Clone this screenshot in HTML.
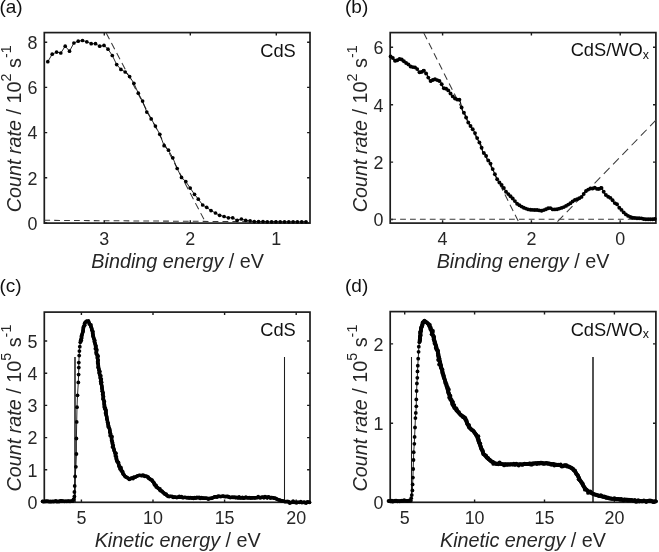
<!DOCTYPE html>
<html><head><meta charset="utf-8"><style>
html,body{margin:0;padding:0;background:#fff;}
body{width:659px;height:552px;overflow:hidden;}
svg{display:block;will-change:transform;}
</style></head><body>
<svg width="659" height="552" viewBox="0 0 659 552" font-family='"Liberation Sans", sans-serif' font-size="17.9" fill="#111"><rect width="659" height="552" fill="#fff"/><g font-size="19"><text x="-0.6" y="13">(a)</text><text x="345" y="13">(b)</text><text x="-0.6" y="292">(c)</text><text x="345" y="292">(d)</text></g><rect x="44.3" y="32.6" width="265.7" height="190.5" fill="none" stroke="#1c1c1c" stroke-width="1.7"/><path d="M104.3,223.1v-2.9M104.3,32.6v2.9M190.3,223.1v-2.9M190.3,32.6v2.9M276.3,223.1v-2.9M276.3,32.6v2.9M44.3,223h2.9M310,223h-2.9M44.3,177.8h2.9M310,177.8h-2.9M44.3,132.6h2.9M310,132.6h-2.9M44.3,87.4h2.9M310,87.4h-2.9M44.3,42.2h2.9M310,42.2h-2.9" stroke="#1c1c1c" stroke-width="1.4" fill="none"/><text x="104.3" y="245.3" fill="#262626" text-anchor="middle">3</text><text x="190.3" y="245.3" fill="#262626" text-anchor="middle">2</text><text x="276.3" y="245.3" fill="#262626" text-anchor="middle">1</text><text x="37.5" y="229.8" fill="#262626" text-anchor="end">0</text><text x="37.5" y="184.6" fill="#262626" text-anchor="end">2</text><text x="37.5" y="139.4" fill="#262626" text-anchor="end">4</text><text x="37.5" y="94.2" fill="#262626" text-anchor="end">6</text><text x="37.5" y="49.0" fill="#262626" text-anchor="end">8</text><rect x="390.2" y="32.6" width="265.7" height="190.5" fill="none" stroke="#1c1c1c" stroke-width="1.7"/><path d="M442.6,223.1v-2.9M442.6,32.6v2.9M531.4,223.1v-2.9M531.4,32.6v2.9M620.2,223.1v-2.9M620.2,32.6v2.9M390.2,219.5h2.9M655.9,219.5h-2.9M390.2,162.1h2.9M655.9,162.1h-2.9M390.2,104.7h2.9M655.9,104.7h-2.9M390.2,47.3h2.9M655.9,47.3h-2.9" stroke="#1c1c1c" stroke-width="1.4" fill="none"/><text x="442.6" y="245.3" fill="#262626" text-anchor="middle">4</text><text x="531.4" y="245.3" fill="#262626" text-anchor="middle">2</text><text x="620.2" y="245.3" fill="#262626" text-anchor="middle">0</text><text x="383.4" y="226.3" fill="#262626" text-anchor="end">0</text><text x="383.4" y="168.9" fill="#262626" text-anchor="end">2</text><text x="383.4" y="111.5" fill="#262626" text-anchor="end">4</text><text x="383.4" y="54.1" fill="#262626" text-anchor="end">6</text><rect x="44.3" y="312.1" width="265.7" height="190.2" fill="none" stroke="#1c1c1c" stroke-width="1.7"/><path d="M81.4,502.3v-2.9M81.4,312.1v2.9M153,502.3v-2.9M153,312.1v2.9M224.6,502.3v-2.9M224.6,312.1v2.9M296.2,502.3v-2.9M296.2,312.1v2.9M44.3,502h2.9M310,502h-2.9M44.3,469.8h2.9M310,469.8h-2.9M44.3,437.6h2.9M310,437.6h-2.9M44.3,405.4h2.9M310,405.4h-2.9M44.3,373.2h2.9M310,373.2h-2.9M44.3,341h2.9M310,341h-2.9" stroke="#1c1c1c" stroke-width="1.4" fill="none"/><text x="81.4" y="524.4" fill="#262626" text-anchor="middle">5</text><text x="153" y="524.4" fill="#262626" text-anchor="middle">10</text><text x="224.6" y="524.4" fill="#262626" text-anchor="middle">15</text><text x="296.2" y="524.4" fill="#262626" text-anchor="middle">20</text><text x="37.5" y="508.8" fill="#262626" text-anchor="end">0</text><text x="37.5" y="476.6" fill="#262626" text-anchor="end">1</text><text x="37.5" y="444.4" fill="#262626" text-anchor="end">2</text><text x="37.5" y="412.2" fill="#262626" text-anchor="end">3</text><text x="37.5" y="380.0" fill="#262626" text-anchor="end">4</text><text x="37.5" y="347.8" fill="#262626" text-anchor="end">5</text><rect x="390.2" y="311.6" width="265.7" height="190.7" fill="none" stroke="#1c1c1c" stroke-width="1.7"/><path d="M404.7,502.3v-2.9M404.7,311.6v2.9M474.6,502.3v-2.9M474.6,311.6v2.9M544.5,502.3v-2.9M544.5,311.6v2.9M614.4,502.3v-2.9M614.4,311.6v2.9M390.2,502.5h2.9M655.9,502.5h-2.9M390.2,423.2h2.9M655.9,423.2h-2.9M390.2,343.9h2.9M655.9,343.9h-2.9" stroke="#1c1c1c" stroke-width="1.4" fill="none"/><text x="404.7" y="524.4" fill="#262626" text-anchor="middle">5</text><text x="474.6" y="524.4" fill="#262626" text-anchor="middle">10</text><text x="544.5" y="524.4" fill="#262626" text-anchor="middle">15</text><text x="614.4" y="524.4" fill="#262626" text-anchor="middle">20</text><text x="383.4" y="509.3" fill="#262626" text-anchor="end">0</text><text x="383.4" y="430.0" fill="#262626" text-anchor="end">1</text><text x="383.4" y="350.7" fill="#262626" text-anchor="end">2</text><path d="M44.3,220.3L310,222.1M390.2,219.3H655.9" stroke="#3a3a3a" stroke-width="1.05" fill="none" stroke-dasharray="5.8 4.1"/><path d="M106.2,33L204.8,221M423.8,33L519.2,223" stroke="#3a3a3a" stroke-width="1.05" fill="none" stroke-dasharray="7 4.3"/><path d="M655.9,120.2L556.1,223" stroke="#3a3a3a" stroke-width="1.05" fill="none" stroke-dasharray="8.3 5"/><path d="M75,357V502M593,357V502" stroke="#000" stroke-width="1.35" fill="none"/><path d="M284.5,357V502M411.5,357V502" stroke="#1e1e1e" stroke-width="1.05" fill="none"/><polyline points="47.8,61.7 52.2,54.2 56.6,52.1 60.8,53.0 65.2,46.2 69.5,51.2 73.9,43.0 78.2,41.2 82.5,40.5 86.8,41.8 91.2,43.7 95.5,43.7 99.7,46.2 104.0,45.4 108.0,49.2 112.3,55.5 116.7,64.6 120.9,69.4 125.2,72.0 129.6,76.5 133.9,83.3 138.3,93.2 142.6,101.1 146.8,112.1 151.2,118.9 155.4,126.1 159.8,134.3 164.1,145.7 168.5,150.2 172.8,157.8 177.2,168.5 181.5,177.4 185.8,181.6 190.2,188.1 194.5,194.3 198.3,199.2 202.7,205.0 206.7,207.3 211.0,210.6 215.5,213.0 219.6,215.3 224.1,216.5 228.4,217.8 232.7,217.8 237.2,220.3 241.4,219.0 245.7,220.3 250.1,220.9 254.3,221.6 258.6,221.6 263.0,221.6 267.3,221.8 271.6,221.8 275.9,221.8 280.2,221.8 284.5,221.8 288.8,221.8 293.1,221.8 297.4,221.8 301.7,221.8 306.0,221.8" fill="none" stroke="#111" stroke-width="0.9"/><g fill="#000"><circle cx="47.8" cy="61.7" r="1.85"/><circle cx="52.2" cy="54.2" r="1.85"/><circle cx="56.6" cy="52.1" r="1.85"/><circle cx="60.8" cy="53.0" r="1.85"/><circle cx="65.2" cy="46.2" r="1.85"/><circle cx="69.5" cy="51.2" r="1.85"/><circle cx="73.9" cy="43.0" r="1.85"/><circle cx="78.2" cy="41.2" r="1.85"/><circle cx="82.5" cy="40.5" r="1.85"/><circle cx="86.8" cy="41.8" r="1.85"/><circle cx="91.2" cy="43.7" r="1.85"/><circle cx="95.5" cy="43.7" r="1.85"/><circle cx="99.7" cy="46.2" r="1.85"/><circle cx="104.0" cy="45.4" r="1.85"/><circle cx="108.0" cy="49.2" r="1.85"/><circle cx="112.3" cy="55.5" r="1.85"/><circle cx="116.7" cy="64.6" r="1.85"/><circle cx="120.9" cy="69.4" r="1.85"/><circle cx="125.2" cy="72.0" r="1.85"/><circle cx="129.6" cy="76.5" r="1.85"/><circle cx="133.9" cy="83.3" r="1.85"/><circle cx="138.3" cy="93.2" r="1.85"/><circle cx="142.6" cy="101.1" r="1.85"/><circle cx="146.8" cy="112.1" r="1.85"/><circle cx="151.2" cy="118.9" r="1.85"/><circle cx="155.4" cy="126.1" r="1.85"/><circle cx="159.8" cy="134.3" r="1.85"/><circle cx="164.1" cy="145.7" r="1.85"/><circle cx="168.5" cy="150.2" r="1.85"/><circle cx="172.8" cy="157.8" r="1.85"/><circle cx="177.2" cy="168.5" r="1.85"/><circle cx="181.5" cy="177.4" r="1.85"/><circle cx="185.8" cy="181.6" r="1.85"/><circle cx="190.2" cy="188.1" r="1.85"/><circle cx="194.5" cy="194.3" r="1.85"/><circle cx="198.3" cy="199.2" r="1.85"/><circle cx="202.7" cy="205.0" r="1.85"/><circle cx="206.7" cy="207.3" r="1.85"/><circle cx="211.0" cy="210.6" r="1.85"/><circle cx="215.5" cy="213.0" r="1.85"/><circle cx="219.6" cy="215.3" r="1.85"/><circle cx="224.1" cy="216.5" r="1.85"/><circle cx="228.4" cy="217.8" r="1.85"/><circle cx="232.7" cy="217.8" r="1.85"/><circle cx="237.2" cy="220.3" r="1.85"/><circle cx="241.4" cy="219.0" r="1.85"/><circle cx="245.7" cy="220.3" r="1.85"/><circle cx="250.1" cy="220.9" r="1.85"/><circle cx="254.3" cy="221.6" r="1.85"/><circle cx="258.6" cy="221.6" r="1.85"/><circle cx="263.0" cy="221.6" r="1.85"/><circle cx="267.3" cy="221.8" r="1.85"/><circle cx="271.6" cy="221.8" r="1.85"/><circle cx="275.9" cy="221.8" r="1.85"/><circle cx="280.2" cy="221.8" r="1.85"/><circle cx="284.5" cy="221.8" r="1.85"/><circle cx="288.8" cy="221.8" r="1.85"/><circle cx="293.1" cy="221.8" r="1.85"/><circle cx="297.4" cy="221.8" r="1.85"/><circle cx="301.7" cy="221.8" r="1.85"/><circle cx="306.0" cy="221.8" r="1.85"/></g><polyline points="390.6,56.4 392.3,57.3 394.2,59.9 396.0,61.8 398.1,59.1 400.7,58.9 402.9,60.2 405.4,62.8 407.6,63.5 409.7,66.0 411.6,67.1 414.1,67.1 416.6,67.8 418.4,71.4 421.0,73.3 422.8,69.5 425.3,72.5 427.1,74.7 429.3,79.9 431.5,81.9 433.7,78.7 437.3,80.1 440.7,81.6 443.1,88.1 446.7,88.8 448.9,91.0 451.8,95.4 454.7,98.3 456.9,99.7 459.1,99.0 460.5,102.6 462.4,110.6 464.9,114.2 467.0,120.0 469.2,124.3 471.4,127.2 474.3,131.6 475.4,134.1 478.2,140.4 480.9,144.9 482.7,152.2 485.4,154.0 487.2,159.4 489.9,162.1 491.7,166.7 493.6,171.2 496.3,177.5 498.1,181.2 500.8,183.9 503.5,187.5 506.2,192.0 509.9,195.7 513.5,199.3 517.1,203.8 521.1,206.4 524.7,208.2 528.3,209.4 533.2,210.0 538.1,210.0 541.1,211.0 544.7,209.8 549.6,207.6 552.6,209.4 556.9,209.4 560.5,208.2 564.2,207.0 567.2,205.2 570.2,203.4 573.9,200.3 577.5,199.1 581.1,197.3 583.0,195.5 584.8,191.8 587.2,190.2 590.1,188.5 592.9,188.5 595.7,187.4 598.3,190.2 600.7,186.6 602.7,190.0 605.0,194.1 607.5,196.4 609.7,197.5 612.0,199.0 614.0,203.1 616.4,203.1 618.7,207.1 620.9,209.3 623.7,212.4 626.5,214.9 629.4,216.6 632.2,217.7 636.7,218.3 641.1,218.3 644.5,219.2 649.0,219.2 653.5,219.2 655.7,218.8" fill="none" stroke="#000" stroke-width="1.1" stroke-linejoin="round" stroke-linecap="round"/><g fill="#000"><circle cx="390.6" cy="56.4" r="1.95"/><circle cx="392.8" cy="58.0" r="1.95"/><circle cx="395.0" cy="60.8" r="1.95"/><circle cx="397.3" cy="60.2" r="1.95"/><circle cx="399.5" cy="59.0" r="1.95"/><circle cx="401.7" cy="59.5" r="1.95"/><circle cx="403.9" cy="61.3" r="1.95"/><circle cx="406.1" cy="63.0" r="1.95"/><circle cx="408.4" cy="64.4" r="1.95"/><circle cx="410.6" cy="66.5" r="1.95"/><circle cx="412.8" cy="67.1" r="1.95"/><circle cx="415.0" cy="67.4" r="1.95"/><circle cx="417.2" cy="69.1" r="1.95"/><circle cx="419.5" cy="72.2" r="1.95"/><circle cx="421.7" cy="71.9" r="1.95"/><circle cx="423.9" cy="70.8" r="1.95"/><circle cx="426.1" cy="73.5" r="1.95"/><circle cx="428.3" cy="77.6" r="1.95"/><circle cx="430.6" cy="81.0" r="1.95"/><circle cx="432.8" cy="80.0" r="1.95"/><circle cx="435.0" cy="79.2" r="1.95"/><circle cx="437.2" cy="80.1" r="1.95"/><circle cx="439.4" cy="81.0" r="1.95"/><circle cx="441.7" cy="84.2" r="1.95"/><circle cx="443.9" cy="88.3" r="1.95"/><circle cx="446.1" cy="88.7" r="1.95"/><circle cx="448.3" cy="90.4" r="1.95"/><circle cx="450.5" cy="93.5" r="1.95"/><circle cx="452.8" cy="96.4" r="1.95"/><circle cx="455.0" cy="98.5" r="1.95"/><circle cx="457.2" cy="99.6" r="1.95"/><circle cx="459.4" cy="99.8" r="1.95"/><circle cx="461.6" cy="107.4" r="1.95"/><circle cx="463.9" cy="112.7" r="1.95"/><circle cx="466.1" cy="117.5" r="1.95"/><circle cx="468.3" cy="122.5" r="1.95"/><circle cx="470.5" cy="126.0" r="1.95"/><circle cx="472.7" cy="129.2" r="1.95"/><circle cx="475.0" cy="133.1" r="1.95"/><circle cx="477.2" cy="138.1" r="1.95"/><circle cx="479.4" cy="142.4" r="1.95"/><circle cx="481.6" cy="147.8" r="1.95"/><circle cx="483.8" cy="153.0" r="1.95"/><circle cx="486.1" cy="156.0" r="1.95"/><circle cx="488.3" cy="160.5" r="1.95"/><circle cx="490.5" cy="163.6" r="1.95"/><circle cx="492.7" cy="169.1" r="1.95"/><circle cx="494.9" cy="174.3" r="1.95"/><circle cx="497.2" cy="179.3" r="1.95"/><circle cx="499.4" cy="182.5" r="1.95"/><circle cx="501.6" cy="185.0" r="1.95"/><circle cx="503.8" cy="188.0" r="1.95"/><circle cx="506.0" cy="191.7" r="1.95"/><circle cx="508.3" cy="194.1" r="1.95"/><circle cx="510.5" cy="196.3" r="1.95"/><circle cx="512.7" cy="198.5" r="1.95"/><circle cx="514.9" cy="201.1" r="1.95"/><circle cx="517.1" cy="203.8" r="1.95"/><circle cx="519.4" cy="205.3" r="1.95"/><circle cx="521.6" cy="206.6" r="1.95"/><circle cx="523.8" cy="207.8" r="1.95"/><circle cx="526.0" cy="208.6" r="1.95"/><circle cx="528.2" cy="209.4" r="1.95"/><circle cx="530.5" cy="209.7" r="1.95"/><circle cx="532.7" cy="209.9" r="1.95"/><circle cx="534.9" cy="210.0" r="1.95"/><circle cx="537.1" cy="210.0" r="1.95"/><circle cx="539.3" cy="210.4" r="1.95"/><circle cx="541.6" cy="210.8" r="1.95"/><circle cx="543.8" cy="210.1" r="1.95"/><circle cx="546.0" cy="209.2" r="1.95"/><circle cx="548.2" cy="208.2" r="1.95"/><circle cx="550.4" cy="208.1" r="1.95"/><circle cx="552.7" cy="209.4" r="1.95"/><circle cx="554.9" cy="209.4" r="1.95"/><circle cx="557.1" cy="209.3" r="1.95"/><circle cx="559.3" cy="208.6" r="1.95"/><circle cx="561.5" cy="207.9" r="1.95"/><circle cx="563.8" cy="207.1" r="1.95"/><circle cx="566.0" cy="205.9" r="1.95"/><circle cx="568.2" cy="204.6" r="1.95"/><circle cx="570.4" cy="203.2" r="1.95"/><circle cx="572.6" cy="201.4" r="1.95"/><circle cx="574.9" cy="200.0" r="1.95"/><circle cx="577.1" cy="199.2" r="1.95"/><circle cx="579.3" cy="198.2" r="1.95"/><circle cx="581.5" cy="196.9" r="1.95"/><circle cx="583.7" cy="194.0" r="1.95"/><circle cx="586.0" cy="191.0" r="1.95"/><circle cx="588.2" cy="189.6" r="1.95"/><circle cx="590.4" cy="188.5" r="1.95"/><circle cx="592.6" cy="188.5" r="1.95"/><circle cx="594.8" cy="187.7" r="1.95"/><circle cx="597.1" cy="188.9" r="1.95"/><circle cx="599.3" cy="188.7" r="1.95"/><circle cx="601.5" cy="188.0" r="1.95"/><circle cx="603.7" cy="191.8" r="1.95"/><circle cx="605.9" cy="195.0" r="1.95"/><circle cx="608.2" cy="196.7" r="1.95"/><circle cx="610.4" cy="197.9" r="1.95"/><circle cx="612.6" cy="200.2" r="1.95"/><circle cx="614.8" cy="203.1" r="1.95"/><circle cx="617.0" cy="204.2" r="1.95"/><circle cx="619.3" cy="207.7" r="1.95"/><circle cx="621.5" cy="209.9" r="1.95"/><circle cx="623.7" cy="212.4" r="1.95"/><circle cx="625.9" cy="214.4" r="1.95"/><circle cx="628.1" cy="215.9" r="1.95"/><circle cx="630.4" cy="217.0" r="1.95"/><circle cx="632.6" cy="217.8" r="1.95"/><circle cx="634.8" cy="218.0" r="1.95"/><circle cx="637.0" cy="218.3" r="1.95"/><circle cx="639.2" cy="218.3" r="1.95"/><circle cx="641.5" cy="218.4" r="1.95"/><circle cx="643.7" cy="219.0" r="1.95"/><circle cx="645.9" cy="219.2" r="1.95"/><circle cx="648.1" cy="219.2" r="1.95"/><circle cx="650.3" cy="219.2" r="1.95"/><circle cx="652.6" cy="219.2" r="1.95"/><circle cx="654.8" cy="219.0" r="1.95"/></g><polyline points="42.5,501.5 72.5,501.3" fill="none" stroke="#000" stroke-width="3.4" stroke-linecap="round"/><g fill="#000"><circle cx="42.5" cy="501.4" r="1.8"/><circle cx="43.6" cy="501.7" r="1.8"/><circle cx="44.7" cy="501.4" r="1.8"/><circle cx="45.8" cy="501.4" r="1.8"/><circle cx="46.9" cy="501.1" r="1.8"/><circle cx="48.1" cy="501.4" r="1.8"/><circle cx="49.2" cy="501.8" r="1.8"/><circle cx="50.3" cy="501.6" r="1.8"/><circle cx="51.4" cy="501.8" r="1.8"/><circle cx="52.5" cy="501.5" r="1.8"/><circle cx="53.6" cy="501.6" r="1.8"/><circle cx="54.7" cy="501.5" r="1.8"/><circle cx="55.8" cy="500.8" r="1.8"/><circle cx="56.9" cy="501.7" r="1.8"/><circle cx="58.1" cy="501.6" r="1.8"/><circle cx="59.2" cy="501.6" r="1.8"/><circle cx="60.3" cy="500.8" r="1.8"/><circle cx="61.4" cy="500.8" r="1.8"/><circle cx="62.5" cy="501.1" r="1.8"/><circle cx="63.6" cy="501.2" r="1.8"/><circle cx="64.7" cy="501.5" r="1.8"/><circle cx="65.8" cy="501.3" r="1.8"/><circle cx="66.9" cy="501.5" r="1.8"/><circle cx="68.1" cy="501.1" r="1.8"/><circle cx="69.2" cy="501.4" r="1.8"/><circle cx="70.3" cy="501.5" r="1.8"/><circle cx="71.4" cy="501.1" r="1.8"/><circle cx="72.5" cy="501.3" r="1.8"/></g><polyline points="72.5,501.3 73.5,499.4 74.4,496.5 74.4,492.0 74.7,485.9 75.1,476.5 75.9,466.8 76.4,454.0 76.4,438.5 76.7,421.9 77.0,407.2 77.5,395.3 78.3,382.4 78.6,374.6 78.8,367.6 78.8,362.6 79.2,355.6 79.4,351.1 79.8,346.7 80.3,342.3 80.7,340.4" fill="none" stroke="#111" stroke-width="0.9"/><g fill="#000"><circle cx="73.5" cy="499.4" r="1.9"/><circle cx="74.4" cy="496.5" r="1.9"/><circle cx="74.4" cy="492.0" r="1.9"/><circle cx="74.7" cy="485.9" r="1.9"/><circle cx="75.1" cy="476.5" r="1.9"/><circle cx="75.9" cy="466.8" r="1.9"/><circle cx="76.4" cy="454.0" r="1.9"/><circle cx="76.4" cy="438.5" r="1.9"/><circle cx="76.7" cy="421.9" r="1.9"/><circle cx="77.0" cy="407.2" r="1.9"/><circle cx="77.5" cy="395.3" r="1.9"/><circle cx="78.3" cy="382.4" r="1.9"/><circle cx="78.6" cy="374.6" r="1.9"/><circle cx="78.8" cy="367.6" r="1.9"/><circle cx="78.8" cy="362.6" r="1.9"/><circle cx="79.2" cy="355.6" r="1.9"/><circle cx="79.4" cy="351.1" r="1.9"/><circle cx="79.8" cy="346.7" r="1.9"/><circle cx="80.3" cy="342.3" r="1.9"/><circle cx="80.7" cy="340.4" r="1.9"/></g><polyline points="80.7,340.4 81.3,337.8 82.6,332.8 83.9,326.4 85.2,322.3 86.6,321.0 88.0,321.3 89.0,322.6 90.9,326.4 92.8,332.8 94.0,339.1 95.3,345.4 96.6,353.0 97.8,360.6 98.8,368.3 100.1,375.9 101.4,383.5 102.4,390.0 103.4,398.0 104.6,406.7 105.8,411.0 107.0,418.8 109.4,428.8 111.6,439.0 113.8,449.1 116.7,459.3 120.3,468.7 124.6,475.9 129.0,478.8 134.1,477.4 139.1,475.2 146.0,476.3 151.0,479.3 154.3,483.5 156.5,486.5 159.5,489.5 163.0,492.3 168.0,495.8 173.2,497.0 179.3,497.3 191.4,497.7 203.5,498.2 209.6,498.5 215.7,496.9 223.0,496.1 230.2,497.4 242.4,498.0 254.9,497.6 267.3,497.1 272.9,497.6 277.3,499.2 282.2,501.1 289.7,502.1 299.7,502.3 309.6,502.4" fill="none" stroke="#000" stroke-width="3.3" stroke-linejoin="round" stroke-linecap="round"/><g fill="#000"><circle cx="81.4" cy="340.6" r="1.8"/><circle cx="81.2" cy="339.2" r="1.8"/><circle cx="81.8" cy="337.9" r="1.8"/><circle cx="81.4" cy="336.5" r="1.8"/><circle cx="81.7" cy="335.2" r="1.8"/><circle cx="82.1" cy="334.0" r="1.8"/><circle cx="82.6" cy="332.8" r="1.8"/><circle cx="83.1" cy="331.6" r="1.8"/><circle cx="83.2" cy="330.3" r="1.8"/><circle cx="83.2" cy="328.9" r="1.8"/><circle cx="83.3" cy="327.6" r="1.8"/><circle cx="83.7" cy="326.3" r="1.8"/><circle cx="84.8" cy="325.2" r="1.8"/><circle cx="84.5" cy="323.6" r="1.8"/><circle cx="85.3" cy="322.4" r="1.8"/><circle cx="86.6" cy="321.2" r="1.8"/><circle cx="88.5" cy="320.9" r="1.8"/><circle cx="89.0" cy="322.6" r="1.8"/><circle cx="89.2" cy="324.1" r="1.8"/><circle cx="91.0" cy="324.8" r="1.8"/><circle cx="91.0" cy="326.4" r="1.8"/><circle cx="91.3" cy="327.5" r="1.8"/><circle cx="91.8" cy="328.4" r="1.8"/><circle cx="91.7" cy="329.7" r="1.8"/><circle cx="92.2" cy="330.7" r="1.8"/><circle cx="93.0" cy="331.6" r="1.8"/><circle cx="92.5" cy="332.9" r="1.8"/><circle cx="92.8" cy="334.1" r="1.8"/><circle cx="92.9" cy="335.4" r="1.8"/><circle cx="93.0" cy="336.7" r="1.8"/><circle cx="93.6" cy="337.9" r="1.8"/><circle cx="94.0" cy="339.1" r="1.8"/><circle cx="94.8" cy="340.3" r="1.8"/><circle cx="94.3" cy="341.7" r="1.8"/><circle cx="95.0" cy="342.8" r="1.8"/><circle cx="95.2" cy="344.1" r="1.8"/><circle cx="95.8" cy="345.3" r="1.8"/><circle cx="95.9" cy="346.4" r="1.8"/><circle cx="95.9" cy="347.5" r="1.8"/><circle cx="95.3" cy="348.7" r="1.8"/><circle cx="96.8" cy="349.6" r="1.8"/><circle cx="96.8" cy="350.7" r="1.8"/><circle cx="96.3" cy="351.9" r="1.8"/><circle cx="96.0" cy="353.1" r="1.8"/><circle cx="96.6" cy="354.3" r="1.8"/><circle cx="97.8" cy="355.4" r="1.8"/><circle cx="98.2" cy="356.6" r="1.8"/><circle cx="97.3" cy="358.1" r="1.8"/><circle cx="97.9" cy="359.3" r="1.8"/><circle cx="98.2" cy="360.5" r="1.8"/><circle cx="97.6" cy="361.8" r="1.8"/><circle cx="97.6" cy="362.9" r="1.8"/><circle cx="98.2" cy="363.9" r="1.8"/><circle cx="98.3" cy="365.0" r="1.8"/><circle cx="98.3" cy="366.1" r="1.8"/><circle cx="98.0" cy="367.3" r="1.8"/><circle cx="98.6" cy="368.3" r="1.8"/><circle cx="98.8" cy="369.4" r="1.8"/><circle cx="99.0" cy="370.5" r="1.8"/><circle cx="100.0" cy="371.5" r="1.8"/><circle cx="99.0" cy="372.7" r="1.8"/><circle cx="99.4" cy="373.8" r="1.8"/><circle cx="99.7" cy="374.9" r="1.8"/><circle cx="100.9" cy="375.8" r="1.8"/><circle cx="100.5" cy="376.9" r="1.8"/><circle cx="100.1" cy="378.1" r="1.8"/><circle cx="101.4" cy="379.0" r="1.8"/><circle cx="100.9" cy="380.2" r="1.8"/><circle cx="100.6" cy="381.4" r="1.8"/><circle cx="101.7" cy="382.3" r="1.8"/><circle cx="100.8" cy="383.6" r="1.8"/><circle cx="101.4" cy="384.8" r="1.8"/><circle cx="101.9" cy="386.1" r="1.8"/><circle cx="101.9" cy="387.4" r="1.8"/><circle cx="101.9" cy="388.7" r="1.8"/><circle cx="102.4" cy="390.0" r="1.8"/><circle cx="102.1" cy="391.2" r="1.8"/><circle cx="102.9" cy="392.3" r="1.8"/><circle cx="103.0" cy="393.4" r="1.8"/><circle cx="102.6" cy="394.6" r="1.8"/><circle cx="103.1" cy="395.7" r="1.8"/><circle cx="103.6" cy="396.8" r="1.8"/><circle cx="103.0" cy="398.1" r="1.8"/><circle cx="103.0" cy="399.3" r="1.8"/><circle cx="103.9" cy="400.5" r="1.8"/><circle cx="104.5" cy="401.7" r="1.8"/><circle cx="104.1" cy="403.0" r="1.8"/><circle cx="104.3" cy="404.2" r="1.8"/><circle cx="104.5" cy="405.4" r="1.8"/><circle cx="104.1" cy="406.9" r="1.8"/><circle cx="105.3" cy="407.7" r="1.8"/><circle cx="104.7" cy="409.0" r="1.8"/><circle cx="106.0" cy="409.8" r="1.8"/><circle cx="106.1" cy="411.0" r="1.8"/><circle cx="105.7" cy="412.2" r="1.8"/><circle cx="105.7" cy="413.3" r="1.8"/><circle cx="106.0" cy="414.4" r="1.8"/><circle cx="106.3" cy="415.5" r="1.8"/><circle cx="106.6" cy="416.6" r="1.8"/><circle cx="106.8" cy="417.7" r="1.8"/><circle cx="106.8" cy="418.9" r="1.8"/><circle cx="107.3" cy="419.9" r="1.8"/><circle cx="107.4" cy="421.0" r="1.8"/><circle cx="107.6" cy="422.2" r="1.8"/><circle cx="108.1" cy="423.2" r="1.8"/><circle cx="108.0" cy="424.4" r="1.8"/><circle cx="108.4" cy="425.5" r="1.8"/><circle cx="108.1" cy="426.8" r="1.8"/><circle cx="109.0" cy="427.7" r="1.8"/><circle cx="109.6" cy="428.8" r="1.8"/><circle cx="109.8" cy="429.9" r="1.8"/><circle cx="109.9" cy="431.1" r="1.8"/><circle cx="109.8" cy="432.3" r="1.8"/><circle cx="110.5" cy="433.3" r="1.8"/><circle cx="110.5" cy="434.5" r="1.8"/><circle cx="110.1" cy="435.8" r="1.8"/><circle cx="112.1" cy="436.5" r="1.8"/><circle cx="111.8" cy="437.8" r="1.8"/><circle cx="111.5" cy="439.0" r="1.8"/><circle cx="111.7" cy="440.2" r="1.8"/><circle cx="112.0" cy="441.3" r="1.8"/><circle cx="112.5" cy="442.3" r="1.8"/><circle cx="112.3" cy="443.5" r="1.8"/><circle cx="112.7" cy="444.6" r="1.8"/><circle cx="113.3" cy="445.7" r="1.8"/><circle cx="112.4" cy="447.1" r="1.8"/><circle cx="113.4" cy="448.0" r="1.8"/><circle cx="114.0" cy="449.0" r="1.8"/><circle cx="114.2" cy="450.2" r="1.8"/><circle cx="114.5" cy="451.3" r="1.8"/><circle cx="114.8" cy="452.5" r="1.8"/><circle cx="116.1" cy="453.3" r="1.8"/><circle cx="115.6" cy="454.7" r="1.8"/><circle cx="115.3" cy="456.0" r="1.8"/><circle cx="116.5" cy="456.9" r="1.8"/><circle cx="116.4" cy="458.2" r="1.8"/><circle cx="116.3" cy="459.4" r="1.8"/><circle cx="116.8" cy="460.5" r="1.8"/><circle cx="116.9" cy="461.6" r="1.8"/><circle cx="118.5" cy="462.2" r="1.8"/><circle cx="118.4" cy="463.4" r="1.8"/><circle cx="118.8" cy="464.5" r="1.8"/><circle cx="118.9" cy="465.7" r="1.8"/><circle cx="119.1" cy="466.8" r="1.8"/><circle cx="120.9" cy="467.3" r="1.8"/><circle cx="119.9" cy="468.9" r="1.8"/><circle cx="121.4" cy="469.4" r="1.8"/><circle cx="121.3" cy="470.9" r="1.8"/><circle cx="122.7" cy="471.5" r="1.8"/><circle cx="122.7" cy="472.9" r="1.8"/><circle cx="123.0" cy="474.1" r="1.8"/><circle cx="124.0" cy="474.8" r="1.8"/><circle cx="124.6" cy="476.0" r="1.8"/><circle cx="125.5" cy="476.9" r="1.8"/><circle cx="126.8" cy="477.4" r="1.8"/><circle cx="127.9" cy="478.0" r="1.8"/><circle cx="129.2" cy="479.4" r="1.8"/><circle cx="130.4" cy="478.9" r="1.8"/><circle cx="131.5" cy="478.0" r="1.8"/><circle cx="133.1" cy="478.8" r="1.8"/><circle cx="133.9" cy="477.0" r="1.8"/><circle cx="135.5" cy="477.2" r="1.8"/><circle cx="136.6" cy="476.2" r="1.8"/><circle cx="137.9" cy="475.8" r="1.8"/><circle cx="139.1" cy="475.5" r="1.8"/><circle cx="140.2" cy="475.5" r="1.8"/><circle cx="141.4" cy="475.8" r="1.8"/><circle cx="142.6" cy="475.1" r="1.8"/><circle cx="143.8" cy="475.3" r="1.8"/><circle cx="144.8" cy="476.4" r="1.8"/><circle cx="146.2" cy="476.0" r="1.8"/><circle cx="147.2" cy="476.5" r="1.8"/><circle cx="148.3" cy="477.0" r="1.8"/><circle cx="148.7" cy="478.5" r="1.8"/><circle cx="149.8" cy="479.0" r="1.8"/><circle cx="150.5" cy="479.7" r="1.8"/><circle cx="152.1" cy="480.1" r="1.8"/><circle cx="152.6" cy="481.4" r="1.8"/><circle cx="153.8" cy="482.2" r="1.8"/><circle cx="154.1" cy="483.7" r="1.8"/><circle cx="154.5" cy="484.9" r="1.8"/><circle cx="156.1" cy="485.3" r="1.8"/><circle cx="156.1" cy="486.9" r="1.8"/><circle cx="157.2" cy="487.8" r="1.8"/><circle cx="158.6" cy="488.4" r="1.8"/><circle cx="160.0" cy="488.9" r="1.8"/><circle cx="160.0" cy="490.6" r="1.8"/><circle cx="161.3" cy="490.9" r="1.8"/><circle cx="162.3" cy="491.4" r="1.8"/><circle cx="162.9" cy="492.4" r="1.8"/><circle cx="163.9" cy="493.1" r="1.8"/><circle cx="164.7" cy="494.2" r="1.8"/><circle cx="166.2" cy="494.1" r="1.8"/><circle cx="166.7" cy="495.5" r="1.8"/><circle cx="167.9" cy="496.4" r="1.8"/><circle cx="169.2" cy="496.7" r="1.8"/><circle cx="170.6" cy="496.3" r="1.8"/><circle cx="172.0" cy="496.4" r="1.8"/><circle cx="173.2" cy="497.4" r="1.8"/><circle cx="174.4" cy="497.1" r="1.8"/><circle cx="175.6" cy="497.2" r="1.8"/><circle cx="176.8" cy="497.7" r="1.8"/><circle cx="178.1" cy="497.1" r="1.8"/><circle cx="179.3" cy="496.4" r="1.8"/><circle cx="180.4" cy="497.2" r="1.8"/><circle cx="181.5" cy="496.6" r="1.8"/><circle cx="182.6" cy="497.7" r="1.8"/><circle cx="183.7" cy="497.6" r="1.8"/><circle cx="184.8" cy="497.2" r="1.8"/><circle cx="185.9" cy="497.5" r="1.8"/><circle cx="187.0" cy="497.9" r="1.8"/><circle cx="188.1" cy="497.6" r="1.8"/><circle cx="189.2" cy="498.2" r="1.8"/><circle cx="190.3" cy="497.6" r="1.8"/><circle cx="191.4" cy="498.1" r="1.8"/><circle cx="192.5" cy="498.3" r="1.8"/><circle cx="193.6" cy="498.4" r="1.8"/><circle cx="194.7" cy="497.6" r="1.8"/><circle cx="195.8" cy="498.2" r="1.8"/><circle cx="196.9" cy="497.2" r="1.8"/><circle cx="198.0" cy="497.5" r="1.8"/><circle cx="199.1" cy="497.2" r="1.8"/><circle cx="200.2" cy="498.5" r="1.8"/><circle cx="201.3" cy="497.6" r="1.8"/><circle cx="202.4" cy="498.1" r="1.8"/><circle cx="203.5" cy="498.1" r="1.8"/><circle cx="204.7" cy="498.2" r="1.8"/><circle cx="206.0" cy="498.1" r="1.8"/><circle cx="207.2" cy="498.5" r="1.8"/><circle cx="208.3" cy="499.2" r="1.8"/><circle cx="209.6" cy="498.5" r="1.8"/><circle cx="210.9" cy="498.4" r="1.8"/><circle cx="212.1" cy="498.2" r="1.8"/><circle cx="213.2" cy="497.5" r="1.8"/><circle cx="214.4" cy="496.7" r="1.8"/><circle cx="215.7" cy="496.7" r="1.8"/><circle cx="217.0" cy="497.2" r="1.8"/><circle cx="218.1" cy="496.0" r="1.8"/><circle cx="219.3" cy="496.3" r="1.8"/><circle cx="220.6" cy="496.8" r="1.8"/><circle cx="221.8" cy="496.5" r="1.8"/><circle cx="223.0" cy="496.1" r="1.8"/><circle cx="224.1" cy="496.6" r="1.8"/><circle cx="225.4" cy="496.6" r="1.8"/><circle cx="226.7" cy="496.3" r="1.8"/><circle cx="227.9" cy="496.4" r="1.8"/><circle cx="229.0" cy="496.9" r="1.8"/><circle cx="230.2" cy="497.8" r="1.8"/><circle cx="231.3" cy="497.2" r="1.8"/><circle cx="232.4" cy="497.1" r="1.8"/><circle cx="233.5" cy="497.3" r="1.8"/><circle cx="234.7" cy="497.0" r="1.8"/><circle cx="235.7" cy="497.6" r="1.8"/><circle cx="236.9" cy="497.3" r="1.8"/><circle cx="238.0" cy="497.9" r="1.8"/><circle cx="239.1" cy="496.9" r="1.8"/><circle cx="240.2" cy="498.0" r="1.8"/><circle cx="241.3" cy="497.7" r="1.8"/><circle cx="242.4" cy="497.2" r="1.8"/><circle cx="243.5" cy="498.3" r="1.8"/><circle cx="244.7" cy="497.8" r="1.8"/><circle cx="245.8" cy="497.0" r="1.8"/><circle cx="246.9" cy="497.5" r="1.8"/><circle cx="248.1" cy="497.9" r="1.8"/><circle cx="249.2" cy="497.6" r="1.8"/><circle cx="250.4" cy="498.1" r="1.8"/><circle cx="251.5" cy="498.0" r="1.8"/><circle cx="252.6" cy="497.9" r="1.8"/><circle cx="253.8" cy="497.8" r="1.8"/><circle cx="254.9" cy="498.1" r="1.8"/><circle cx="256.0" cy="497.8" r="1.8"/><circle cx="257.2" cy="497.7" r="1.8"/><circle cx="258.2" cy="496.6" r="1.8"/><circle cx="259.4" cy="497.8" r="1.8"/><circle cx="260.6" cy="497.9" r="1.8"/><circle cx="261.7" cy="497.2" r="1.8"/><circle cx="262.8" cy="497.1" r="1.8"/><circle cx="263.9" cy="498.0" r="1.8"/><circle cx="265.0" cy="496.5" r="1.8"/><circle cx="266.2" cy="497.3" r="1.8"/><circle cx="267.2" cy="498.1" r="1.8"/><circle cx="268.5" cy="496.8" r="1.8"/><circle cx="269.5" cy="497.6" r="1.8"/><circle cx="270.6" cy="498.2" r="1.8"/><circle cx="271.8" cy="497.5" r="1.8"/><circle cx="272.8" cy="497.8" r="1.8"/><circle cx="273.9" cy="498.3" r="1.8"/><circle cx="275.2" cy="498.1" r="1.8"/><circle cx="276.2" cy="498.8" r="1.8"/><circle cx="277.3" cy="499.3" r="1.8"/><circle cx="278.4" cy="500.0" r="1.8"/><circle cx="279.8" cy="500.1" r="1.8"/><circle cx="281.0" cy="500.6" r="1.8"/><circle cx="282.3" cy="500.7" r="1.8"/><circle cx="283.5" cy="501.1" r="1.8"/><circle cx="284.7" cy="501.8" r="1.8"/><circle cx="285.9" cy="501.6" r="1.8"/><circle cx="287.2" cy="501.4" r="1.8"/><circle cx="288.5" cy="501.6" r="1.8"/><circle cx="289.7" cy="503.2" r="1.8"/><circle cx="290.8" cy="502.6" r="1.8"/><circle cx="291.9" cy="502.4" r="1.8"/><circle cx="293.1" cy="501.1" r="1.8"/><circle cx="294.1" cy="502.4" r="1.8"/><circle cx="295.3" cy="502.4" r="1.8"/><circle cx="296.4" cy="502.9" r="1.8"/><circle cx="297.5" cy="502.4" r="1.8"/><circle cx="298.6" cy="502.3" r="1.8"/><circle cx="299.7" cy="502.5" r="1.8"/><circle cx="300.8" cy="501.5" r="1.8"/><circle cx="301.9" cy="502.7" r="1.8"/><circle cx="303.0" cy="502.5" r="1.8"/><circle cx="304.1" cy="502.1" r="1.8"/><circle cx="305.2" cy="502.9" r="1.8"/><circle cx="306.3" cy="503.1" r="1.8"/><circle cx="307.4" cy="501.8" r="1.8"/><circle cx="308.5" cy="502.1" r="1.8"/><circle cx="309.6" cy="502.4" r="1.8"/></g><polyline points="388.5,501.0 410.8,500.8" fill="none" stroke="#000" stroke-width="3.4" stroke-linecap="round"/><g fill="#000"><circle cx="388.5" cy="501.1" r="1.8"/><circle cx="389.6" cy="501.1" r="1.8"/><circle cx="390.7" cy="500.8" r="1.8"/><circle cx="391.8" cy="500.6" r="1.8"/><circle cx="393.0" cy="501.7" r="1.8"/><circle cx="394.1" cy="501.3" r="1.8"/><circle cx="395.2" cy="500.5" r="1.8"/><circle cx="396.3" cy="500.5" r="1.8"/><circle cx="397.4" cy="501.5" r="1.8"/><circle cx="398.5" cy="501.3" r="1.8"/><circle cx="399.7" cy="501.5" r="1.8"/><circle cx="400.8" cy="501.2" r="1.8"/><circle cx="401.9" cy="500.6" r="1.8"/><circle cx="403.0" cy="501.0" r="1.8"/><circle cx="404.1" cy="500.1" r="1.8"/><circle cx="405.2" cy="500.6" r="1.8"/><circle cx="406.3" cy="500.8" r="1.8"/><circle cx="407.5" cy="501.0" r="1.8"/><circle cx="408.6" cy="500.6" r="1.8"/><circle cx="409.7" cy="500.8" r="1.8"/><circle cx="410.8" cy="500.8" r="1.8"/></g><polyline points="410.8,500.8 411.2,498.2 411.8,495.1 412.4,490.4 412.6,484.4 412.9,477.6 413.2,469.0 413.5,460.0 413.7,452.2 414.3,443.8 414.6,436.9 415.0,427.5 415.4,418.1 415.8,412.9 416.3,406.3 416.3,399.4 416.6,391.0 416.9,383.5 417.3,377.8 417.5,371.4 417.8,365.7 418.2,358.7 418.6,351.8 418.8,346.7 419.4,342.3 420.1,336.6 420.7,331.5 421.3,327.7 421.9,326.3" fill="none" stroke="#111" stroke-width="0.9"/><g fill="#000"><circle cx="411.2" cy="498.2" r="1.9"/><circle cx="411.8" cy="495.1" r="1.9"/><circle cx="412.4" cy="490.4" r="1.9"/><circle cx="412.6" cy="484.4" r="1.9"/><circle cx="412.9" cy="477.6" r="1.9"/><circle cx="413.2" cy="469.0" r="1.9"/><circle cx="413.5" cy="460.0" r="1.9"/><circle cx="413.7" cy="452.2" r="1.9"/><circle cx="414.3" cy="443.8" r="1.9"/><circle cx="414.6" cy="436.9" r="1.9"/><circle cx="415.0" cy="427.5" r="1.9"/><circle cx="415.4" cy="418.1" r="1.9"/><circle cx="415.8" cy="412.9" r="1.9"/><circle cx="416.3" cy="406.3" r="1.9"/><circle cx="416.3" cy="399.4" r="1.9"/><circle cx="416.6" cy="391.0" r="1.9"/><circle cx="416.9" cy="383.5" r="1.9"/><circle cx="417.3" cy="377.8" r="1.9"/><circle cx="417.5" cy="371.4" r="1.9"/><circle cx="417.8" cy="365.7" r="1.9"/><circle cx="418.2" cy="358.7" r="1.9"/><circle cx="418.6" cy="351.8" r="1.9"/><circle cx="418.8" cy="346.7" r="1.9"/><circle cx="419.4" cy="342.3" r="1.9"/><circle cx="420.1" cy="336.6" r="1.9"/><circle cx="420.7" cy="331.5" r="1.9"/><circle cx="421.3" cy="327.7" r="1.9"/><circle cx="421.9" cy="326.3" r="1.9"/></g><polyline points="419.6,341.0 420.1,336.6 420.7,331.5 421.3,327.7 422.6,323.9 424.5,320.7 427.7,323.2 430.2,327.7 432.1,332.8 434.0,339.1 435.9,345.4 437.8,351.8 439.5,359.5 441.3,367.6 443.2,374.0 444.9,380.3 446.7,386.6 448.7,393.0 450.9,399.3 453.4,405.7 456.6,410.7 460.4,414.5 464.2,417.1 466.7,422.1 469.0,427.2 471.6,429.8 474.1,431.6 477.0,436.7 479.1,442.5 481.0,447.5 483.5,453.7 487.1,457.9 490.8,460.9 495.0,463.4 501.7,464.0 511.4,464.3 521.1,464.3 530.8,463.7 540.5,463.0 547.8,463.4 554.5,464.4 561.8,465.6 567.6,466.1 571.8,468.2 575.3,471.8 578.2,476.5 580.6,481.2 583.5,485.9 586.5,490.0 590.0,492.4 594.7,494.4 600.6,496.2 606.5,497.6 612.2,498.6 621.2,499.5 630.3,500.0 634.8,501.0 645.0,501.2 655.9,501.3" fill="none" stroke="#000" stroke-width="3.8" stroke-linejoin="round" stroke-linecap="round"/><g fill="#000"><circle cx="419.9" cy="341.0" r="1.9"/><circle cx="419.9" cy="339.9" r="1.9"/><circle cx="420.2" cy="338.8" r="1.9"/><circle cx="420.1" cy="337.7" r="1.9"/><circle cx="419.9" cy="336.6" r="1.9"/><circle cx="420.7" cy="335.4" r="1.9"/><circle cx="420.4" cy="334.1" r="1.9"/><circle cx="420.1" cy="332.7" r="1.9"/><circle cx="420.4" cy="331.4" r="1.9"/><circle cx="420.9" cy="330.2" r="1.9"/><circle cx="421.0" cy="329.0" r="1.9"/><circle cx="421.4" cy="327.7" r="1.9"/><circle cx="421.7" cy="326.4" r="1.9"/><circle cx="422.3" cy="325.2" r="1.9"/><circle cx="422.5" cy="323.9" r="1.9"/><circle cx="422.6" cy="322.5" r="1.9"/><circle cx="424.1" cy="321.9" r="1.9"/><circle cx="424.1" cy="321.2" r="1.9"/><circle cx="425.4" cy="321.7" r="1.9"/><circle cx="426.7" cy="322.3" r="1.9"/><circle cx="427.5" cy="323.3" r="1.9"/><circle cx="428.8" cy="324.1" r="1.9"/><circle cx="429.9" cy="324.9" r="1.9"/><circle cx="429.5" cy="326.6" r="1.9"/><circle cx="430.7" cy="327.5" r="1.9"/><circle cx="430.3" cy="329.1" r="1.9"/><circle cx="431.7" cy="330.0" r="1.9"/><circle cx="433.0" cy="331.0" r="1.9"/><circle cx="432.6" cy="332.6" r="1.9"/><circle cx="431.6" cy="334.3" r="1.9"/><circle cx="433.1" cy="335.3" r="1.9"/><circle cx="434.0" cy="336.4" r="1.9"/><circle cx="434.0" cy="337.7" r="1.9"/><circle cx="433.7" cy="339.2" r="1.9"/><circle cx="434.1" cy="340.4" r="1.9"/><circle cx="434.7" cy="341.6" r="1.9"/><circle cx="434.4" cy="343.1" r="1.9"/><circle cx="435.1" cy="344.3" r="1.9"/><circle cx="435.9" cy="345.4" r="1.9"/><circle cx="435.9" cy="346.6" r="1.9"/><circle cx="435.7" cy="347.8" r="1.9"/><circle cx="436.3" cy="348.8" r="1.9"/><circle cx="436.6" cy="349.8" r="1.9"/><circle cx="438.1" cy="350.6" r="1.9"/><circle cx="437.9" cy="351.8" r="1.9"/><circle cx="437.7" cy="353.0" r="1.9"/><circle cx="438.4" cy="354.0" r="1.9"/><circle cx="438.0" cy="355.2" r="1.9"/><circle cx="438.5" cy="356.3" r="1.9"/><circle cx="438.5" cy="357.4" r="1.9"/><circle cx="439.4" cy="358.4" r="1.9"/><circle cx="438.1" cy="359.8" r="1.9"/><circle cx="439.1" cy="360.8" r="1.9"/><circle cx="440.1" cy="361.8" r="1.9"/><circle cx="440.2" cy="363.0" r="1.9"/><circle cx="439.1" cy="364.4" r="1.9"/><circle cx="441.0" cy="365.2" r="1.9"/><circle cx="440.6" cy="366.5" r="1.9"/><circle cx="440.8" cy="367.8" r="1.9"/><circle cx="441.6" cy="368.7" r="1.9"/><circle cx="442.5" cy="369.6" r="1.9"/><circle cx="442.2" cy="370.8" r="1.9"/><circle cx="442.4" cy="371.9" r="1.9"/><circle cx="442.3" cy="373.1" r="1.9"/><circle cx="442.8" cy="374.1" r="1.9"/><circle cx="443.5" cy="375.3" r="1.9"/><circle cx="443.4" cy="376.6" r="1.9"/><circle cx="443.9" cy="377.9" r="1.9"/><circle cx="444.5" cy="379.1" r="1.9"/><circle cx="444.9" cy="380.3" r="1.9"/><circle cx="445.4" cy="381.5" r="1.9"/><circle cx="445.3" cy="382.9" r="1.9"/><circle cx="446.5" cy="383.9" r="1.9"/><circle cx="446.7" cy="385.2" r="1.9"/><circle cx="446.7" cy="386.6" r="1.9"/><circle cx="447.8" cy="387.4" r="1.9"/><circle cx="447.6" cy="388.7" r="1.9"/><circle cx="448.8" cy="389.5" r="1.9"/><circle cx="448.4" cy="390.8" r="1.9"/><circle cx="448.1" cy="392.0" r="1.9"/><circle cx="448.4" cy="393.1" r="1.9"/><circle cx="449.1" cy="394.0" r="1.9"/><circle cx="449.6" cy="395.1" r="1.9"/><circle cx="450.5" cy="395.9" r="1.9"/><circle cx="449.2" cy="397.5" r="1.9"/><circle cx="450.3" cy="398.3" r="1.9"/><circle cx="450.3" cy="399.5" r="1.9"/><circle cx="451.8" cy="400.2" r="1.9"/><circle cx="451.8" cy="401.4" r="1.9"/><circle cx="453.1" cy="402.1" r="1.9"/><circle cx="452.2" cy="403.7" r="1.9"/><circle cx="452.5" cy="404.8" r="1.9"/><circle cx="454.3" cy="405.1" r="1.9"/><circle cx="454.1" cy="406.7" r="1.9"/><circle cx="454.4" cy="407.9" r="1.9"/><circle cx="456.1" cy="408.2" r="1.9"/><circle cx="456.8" cy="409.2" r="1.9"/><circle cx="457.0" cy="410.3" r="1.9"/><circle cx="457.8" cy="411.4" r="1.9"/><circle cx="459.0" cy="412.1" r="1.9"/><circle cx="459.4" cy="413.6" r="1.9"/><circle cx="460.3" cy="414.6" r="1.9"/><circle cx="461.2" cy="415.4" r="1.9"/><circle cx="462.1" cy="416.1" r="1.9"/><circle cx="462.8" cy="417.1" r="1.9"/><circle cx="463.6" cy="417.4" r="1.9"/><circle cx="465.3" cy="417.8" r="1.9"/><circle cx="465.4" cy="419.0" r="1.9"/><circle cx="466.2" cy="419.8" r="1.9"/><circle cx="466.7" cy="420.8" r="1.9"/><circle cx="466.7" cy="422.1" r="1.9"/><circle cx="467.2" cy="423.1" r="1.9"/><circle cx="467.4" cy="424.3" r="1.9"/><circle cx="468.9" cy="424.8" r="1.9"/><circle cx="469.2" cy="425.9" r="1.9"/><circle cx="469.0" cy="427.2" r="1.9"/><circle cx="469.9" cy="428.0" r="1.9"/><circle cx="470.9" cy="428.8" r="1.9"/><circle cx="471.6" cy="429.8" r="1.9"/><circle cx="473.1" cy="430.4" r="1.9"/><circle cx="473.8" cy="431.8" r="1.9"/><circle cx="474.5" cy="432.7" r="1.9"/><circle cx="475.3" cy="433.6" r="1.9"/><circle cx="476.2" cy="434.5" r="1.9"/><circle cx="476.5" cy="435.6" r="1.9"/><circle cx="478.4" cy="436.2" r="1.9"/><circle cx="477.9" cy="437.7" r="1.9"/><circle cx="477.8" cy="439.0" r="1.9"/><circle cx="479.0" cy="439.9" r="1.9"/><circle cx="478.6" cy="441.4" r="1.9"/><circle cx="479.0" cy="442.5" r="1.9"/><circle cx="480.3" cy="443.5" r="1.9"/><circle cx="480.2" cy="445.0" r="1.9"/><circle cx="480.7" cy="446.2" r="1.9"/><circle cx="480.8" cy="447.6" r="1.9"/><circle cx="481.1" cy="448.7" r="1.9"/><circle cx="481.9" cy="449.6" r="1.9"/><circle cx="482.7" cy="450.4" r="1.9"/><circle cx="482.7" cy="451.6" r="1.9"/><circle cx="483.1" cy="452.7" r="1.9"/><circle cx="483.2" cy="454.0" r="1.9"/><circle cx="484.1" cy="454.6" r="1.9"/><circle cx="485.2" cy="455.1" r="1.9"/><circle cx="486.2" cy="455.7" r="1.9"/><circle cx="486.5" cy="456.9" r="1.9"/><circle cx="487.4" cy="457.6" r="1.9"/><circle cx="488.4" cy="458.2" r="1.9"/><circle cx="489.0" cy="459.4" r="1.9"/><circle cx="490.0" cy="459.9" r="1.9"/><circle cx="490.8" cy="460.9" r="1.9"/><circle cx="491.7" cy="461.8" r="1.9"/><circle cx="493.0" cy="462.0" r="1.9"/><circle cx="493.3" cy="463.9" r="1.9"/><circle cx="495.0" cy="463.2" r="1.9"/><circle cx="496.1" cy="464.1" r="1.9"/><circle cx="497.2" cy="463.7" r="1.9"/><circle cx="498.3" cy="464.3" r="1.9"/><circle cx="499.6" cy="462.5" r="1.9"/><circle cx="500.6" cy="463.5" r="1.9"/><circle cx="501.7" cy="464.1" r="1.9"/><circle cx="502.9" cy="464.4" r="1.9"/><circle cx="504.1" cy="465.4" r="1.9"/><circle cx="505.3" cy="464.3" r="1.9"/><circle cx="506.5" cy="464.9" r="1.9"/><circle cx="507.7" cy="464.6" r="1.9"/><circle cx="509.0" cy="464.7" r="1.9"/><circle cx="510.2" cy="464.5" r="1.9"/><circle cx="511.4" cy="464.2" r="1.9"/><circle cx="512.6" cy="464.6" r="1.9"/><circle cx="513.8" cy="463.7" r="1.9"/><circle cx="515.0" cy="464.9" r="1.9"/><circle cx="516.2" cy="463.7" r="1.9"/><circle cx="517.5" cy="464.4" r="1.9"/><circle cx="518.7" cy="465.5" r="1.9"/><circle cx="519.9" cy="464.2" r="1.9"/><circle cx="521.1" cy="464.3" r="1.9"/><circle cx="522.4" cy="464.9" r="1.9"/><circle cx="523.5" cy="464.2" r="1.9"/><circle cx="524.7" cy="463.6" r="1.9"/><circle cx="526.0" cy="464.1" r="1.9"/><circle cx="527.2" cy="464.2" r="1.9"/><circle cx="528.4" cy="464.2" r="1.9"/><circle cx="529.6" cy="463.4" r="1.9"/><circle cx="530.9" cy="464.7" r="1.9"/><circle cx="532.1" cy="464.5" r="1.9"/><circle cx="533.2" cy="463.5" r="1.9"/><circle cx="534.4" cy="463.6" r="1.9"/><circle cx="535.6" cy="463.1" r="1.9"/><circle cx="536.9" cy="464.0" r="1.9"/><circle cx="538.0" cy="462.8" r="1.9"/><circle cx="539.3" cy="463.5" r="1.9"/><circle cx="540.5" cy="462.7" r="1.9"/><circle cx="541.7" cy="462.7" r="1.9"/><circle cx="542.9" cy="463.5" r="1.9"/><circle cx="544.1" cy="463.9" r="1.9"/><circle cx="545.4" cy="463.3" r="1.9"/><circle cx="546.6" cy="463.0" r="1.9"/><circle cx="547.7" cy="463.8" r="1.9"/><circle cx="548.9" cy="463.5" r="1.9"/><circle cx="550.0" cy="463.9" r="1.9"/><circle cx="551.0" cy="464.7" r="1.9"/><circle cx="552.2" cy="464.7" r="1.9"/><circle cx="553.4" cy="464.0" r="1.9"/><circle cx="554.3" cy="465.6" r="1.9"/><circle cx="555.7" cy="464.6" r="1.9"/><circle cx="556.9" cy="465.2" r="1.9"/><circle cx="558.2" cy="464.6" r="1.9"/><circle cx="559.4" cy="465.2" r="1.9"/><circle cx="560.7" cy="464.5" r="1.9"/><circle cx="561.7" cy="466.6" r="1.9"/><circle cx="562.9" cy="466.4" r="1.9"/><circle cx="564.2" cy="465.1" r="1.9"/><circle cx="565.4" cy="465.1" r="1.9"/><circle cx="566.5" cy="465.1" r="1.9"/><circle cx="567.3" cy="466.7" r="1.9"/><circle cx="568.8" cy="466.4" r="1.9"/><circle cx="569.7" cy="467.1" r="1.9"/><circle cx="570.8" cy="467.5" r="1.9"/><circle cx="571.8" cy="468.2" r="1.9"/><circle cx="573.1" cy="468.7" r="1.9"/><circle cx="573.5" cy="470.0" r="1.9"/><circle cx="575.0" cy="470.3" r="1.9"/><circle cx="575.3" cy="471.8" r="1.9"/><circle cx="575.7" cy="472.8" r="1.9"/><circle cx="576.2" cy="473.8" r="1.9"/><circle cx="577.1" cy="474.6" r="1.9"/><circle cx="578.0" cy="475.3" r="1.9"/><circle cx="578.1" cy="476.5" r="1.9"/><circle cx="579.0" cy="477.6" r="1.9"/><circle cx="578.6" cy="479.2" r="1.9"/><circle cx="579.6" cy="480.2" r="1.9"/><circle cx="580.7" cy="481.2" r="1.9"/><circle cx="581.4" cy="482.0" r="1.9"/><circle cx="582.1" cy="482.9" r="1.9"/><circle cx="582.8" cy="483.7" r="1.9"/><circle cx="583.1" cy="484.9" r="1.9"/><circle cx="583.4" cy="486.0" r="1.9"/><circle cx="584.0" cy="487.1" r="1.9"/><circle cx="584.7" cy="488.1" r="1.9"/><circle cx="584.8" cy="489.7" r="1.9"/><circle cx="586.7" cy="489.7" r="1.9"/><circle cx="587.7" cy="490.8" r="1.9"/><circle cx="588.0" cy="492.9" r="1.9"/><circle cx="590.4" cy="491.5" r="1.9"/><circle cx="591.3" cy="492.6" r="1.9"/><circle cx="592.3" cy="493.5" r="1.9"/><circle cx="593.5" cy="494.0" r="1.9"/><circle cx="594.6" cy="494.6" r="1.9"/><circle cx="595.9" cy="494.6" r="1.9"/><circle cx="597.0" cy="495.3" r="1.9"/><circle cx="598.2" cy="495.5" r="1.9"/><circle cx="599.3" cy="496.2" r="1.9"/><circle cx="600.8" cy="495.2" r="1.9"/><circle cx="601.9" cy="496.0" r="1.9"/><circle cx="603.0" cy="496.8" r="1.9"/><circle cx="604.3" cy="496.5" r="1.9"/><circle cx="605.5" cy="496.8" r="1.9"/><circle cx="606.4" cy="497.9" r="1.9"/><circle cx="607.7" cy="497.4" r="1.9"/><circle cx="608.7" cy="498.3" r="1.9"/><circle cx="609.8" cy="498.6" r="1.9"/><circle cx="611.0" cy="498.6" r="1.9"/><circle cx="612.2" cy="498.9" r="1.9"/><circle cx="613.3" cy="498.7" r="1.9"/><circle cx="614.5" cy="498.1" r="1.9"/><circle cx="615.6" cy="498.9" r="1.9"/><circle cx="616.7" cy="499.3" r="1.9"/><circle cx="617.9" cy="498.9" r="1.9"/><circle cx="619.0" cy="499.2" r="1.9"/><circle cx="620.0" cy="499.8" r="1.9"/><circle cx="621.2" cy="499.0" r="1.9"/><circle cx="622.3" cy="499.9" r="1.9"/><circle cx="623.4" cy="500.6" r="1.9"/><circle cx="624.6" cy="499.4" r="1.9"/><circle cx="625.7" cy="499.8" r="1.9"/><circle cx="626.9" cy="499.7" r="1.9"/><circle cx="628.0" cy="500.7" r="1.9"/><circle cx="629.2" cy="500.1" r="1.9"/><circle cx="630.2" cy="500.5" r="1.9"/><circle cx="631.5" cy="499.9" r="1.9"/><circle cx="632.6" cy="500.5" r="1.9"/><circle cx="633.7" cy="500.7" r="1.9"/><circle cx="634.8" cy="500.0" r="1.9"/><circle cx="635.9" cy="501.8" r="1.9"/><circle cx="637.1" cy="501.5" r="1.9"/><circle cx="638.2" cy="500.1" r="1.9"/><circle cx="639.3" cy="501.5" r="1.9"/><circle cx="640.5" cy="501.0" r="1.9"/><circle cx="641.6" cy="501.4" r="1.9"/><circle cx="642.7" cy="501.4" r="1.9"/><circle cx="643.9" cy="500.4" r="1.9"/><circle cx="645.0" cy="501.1" r="1.9"/><circle cx="646.2" cy="502.0" r="1.9"/><circle cx="647.4" cy="500.9" r="1.9"/><circle cx="648.6" cy="500.7" r="1.9"/><circle cx="649.9" cy="500.5" r="1.9"/><circle cx="651.1" cy="500.6" r="1.9"/><circle cx="652.3" cy="501.5" r="1.9"/><circle cx="653.5" cy="502.2" r="1.9"/><circle cx="654.7" cy="501.5" r="1.9"/><circle cx="655.9" cy="501.3" r="1.9"/></g><text x="295.8" y="56.8" font-size="18.3" text-anchor="end">CdS</text><text x="295.8" y="336.1" font-size="18.3" text-anchor="end">CdS</text><text x="649" y="56.2" font-size="18.3" text-anchor="end">CdS/WO<tspan font-size="12.4" dy="2.9">x</tspan></text><text x="649" y="335.5" font-size="18.3" text-anchor="end">CdS/WO<tspan font-size="12.4" dy="2.9">x</tspan></text><text x="177.7" y="267.6" font-size="19.8" fill="#262626" text-anchor="middle"><tspan font-style="italic">Binding energy</tspan> / eV</text><text x="523" y="267.6" font-size="19.8" fill="#262626" text-anchor="middle"><tspan font-style="italic">Binding energy</tspan> / eV</text><text x="177.7" y="546.9" font-size="19.8" fill="#262626" text-anchor="middle"><tspan font-style="italic">Kinetic energy</tspan> / eV</text><text x="523" y="546.9" font-size="19.8" fill="#262626" text-anchor="middle"><tspan font-style="italic">Kinetic energy</tspan> / eV</text><text transform="translate(21.3,212.3) rotate(-90)" x="0" y="0" font-size="19.8" fill="#262626"><tspan font-style="italic">Count rate</tspan> / 10<tspan font-size="14.3" dy="-10.3">2</tspan><tspan dy="10.3"> s</tspan><tspan font-size="14.3" dy="-10.3">-1</tspan></text><text transform="translate(367.3,212.3) rotate(-90)" x="0" y="0" font-size="19.8" fill="#262626"><tspan font-style="italic">Count rate</tspan> / 10<tspan font-size="14.3" dy="-10.3">2</tspan><tspan dy="10.3"> s</tspan><tspan font-size="14.3" dy="-10.3">-1</tspan></text><text transform="translate(21.3,491.6) rotate(-90)" x="0" y="0" font-size="19.8" fill="#262626"><tspan font-style="italic">Count rate</tspan> / 10<tspan font-size="14.3" dy="-10.3">5</tspan><tspan dy="10.3"> s</tspan><tspan font-size="14.3" dy="-10.3">-1</tspan></text><text transform="translate(367.3,491.6) rotate(-90)" x="0" y="0" font-size="19.8" fill="#262626"><tspan font-style="italic">Count rate</tspan> / 10<tspan font-size="14.3" dy="-10.3">5</tspan><tspan dy="10.3"> s</tspan><tspan font-size="14.3" dy="-10.3">-1</tspan></text></svg>
</body></html>
